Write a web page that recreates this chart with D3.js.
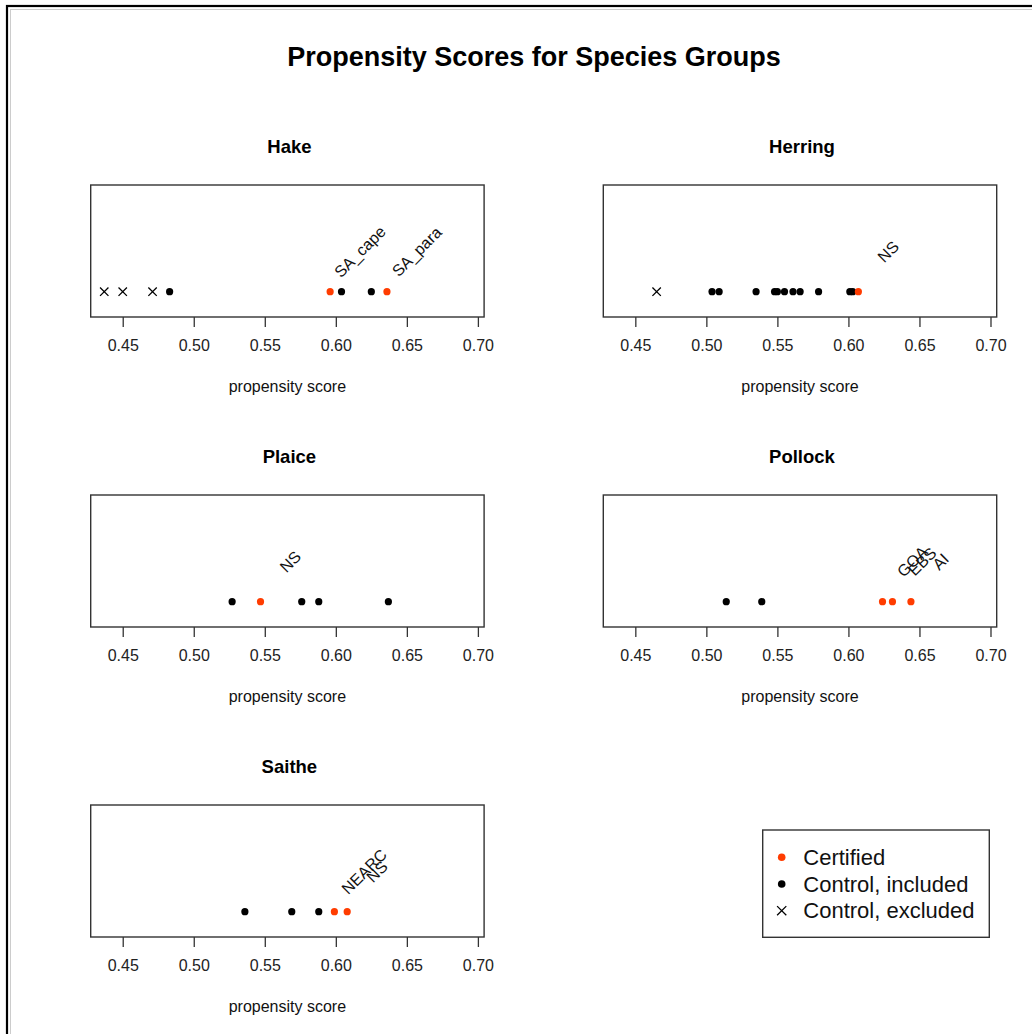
<!DOCTYPE html>
<html>
<head>
<meta charset="utf-8">
<script src="https://cdn.jsdelivr.net/npm/d3@7"></script>
<style>
  body { margin: 0; background: #fff; }
  svg { display: block; font-family: "Liberation Sans", Arial, Helvetica, sans-serif; }
</style>
</head>
<body>
<div id="chart"></div>
<script>
var svgWidth = 1032;
var svgHeight = 1034;

// data
var groups = ["Hake", "Herring", "Plaice", "Pollock", "Saithe"];

var hakeCertified = [0.596, 0.636];
var hakeLabels = ["SA_cape", "SA_para"];
var hakeIncluded = [0.483, 0.604, 0.625];
var hakeExcluded = [0.437, 0.450, 0.471];

var herringCertified = [0.607];
var herringLabels = ["NS"];
var herringIncluded = [0.504, 0.509, 0.535, 0.548, 0.550, 0.555, 0.561, 0.566, 0.579, 0.601, 0.603];
var herringExcluded = [0.465];

var plaiceCertified = [0.547];
var plaiceLabels = ["NS"];
var plaiceIncluded = [0.527, 0.576, 0.588, 0.637];
var plaiceExcluded = [];

var pollockCertified = [0.624, 0.631, 0.644];
var pollockLabels = ["GOA", "EBS", "AI"];
var pollockIncluded = [0.514, 0.539];
var pollockExcluded = [];

var saitheCertified = [0.599, 0.608];
var saitheLabels = ["NEARC", "NS"];
var saitheIncluded = [0.536, 0.569, 0.588];
var saitheExcluded = [];

var xTicks = [0.45, 0.50, 0.55, 0.60, 0.65, 0.70];
var legendLabels = ["Certified", "Control, included", "Control, excluded"];

var panels = [
  {name: groups[0], cert: hakeCertified, labels: hakeLabels, inc: hakeIncluded, exc: hakeExcluded},
  {name: groups[1], cert: herringCertified, labels: herringLabels, inc: herringIncluded, exc: herringExcluded},
  {name: groups[2], cert: plaiceCertified, labels: plaiceLabels, inc: plaiceIncluded, exc: plaiceExcluded},
  {name: groups[3], cert: pollockCertified, labels: pollockLabels, inc: pollockIncluded, exc: pollockExcluded},
  {name: groups[4], cert: saitheCertified, labels: saitheLabels, inc: saitheIncluded, exc: saitheExcluded}
];

var red = "#ff3c00";
var panelW = 393.4, panelH = 132;
var colX = [90.7, 603.3];
var rowY = [185, 495, 805];

var svg = d3.select("#chart")
  .append("svg")
  .attr("width", svgWidth)
  .attr("height", svgHeight);

// outer frame (only top and left edges are visible in the picture)
svg.append("rect")
  .attr("x", 7).attr("y", 6)
  .attr("width", svgWidth + 20).attr("height", svgHeight + 20)
  .attr("fill", "none").attr("stroke", "#000").attr("stroke-width", 2.2);
svg.append("rect")
  .attr("x", 10.5).attr("y", 9.5)
  .attr("width", svgWidth + 20).attr("height", svgHeight + 20)
  .attr("fill", "none").attr("stroke", "#ccc").attr("stroke-width", 1);

// main title
svg.append("text")
  .attr("x", 534).attr("y", 66)
  .attr("text-anchor", "middle")
  .style("font-size", "27px").style("font-weight", "bold")
  .text("Propensity Scores for Species Groups");

var xScale = d3.scaleLinear().domain([0.42746, 0.70437]).range([0, panelW]);
var yScale = d3.scaleLinear().domain([0, 1]).range([panelH, 0]);
var yPoint = 0.192;

panels.forEach(function(p, i) {
  var g = svg.append("g")
    .attr("transform", `translate(${colX[i % 2]}, ${rowY[Math.floor(i / 2)]})`);

  // panel title
  g.append("text")
    .attr("x", panelW / 2 + 2).attr("y", -32)
    .attr("text-anchor", "middle")
    .style("font-size", "18.5px").style("font-weight", "bold")
    .text(p.name);

  // x axis
  var axis = g.append("g")
    .attr("transform", `translate(0, ${panelH})`)
    .call(d3.axisBottom(xScale).tickValues(xTicks).tickFormat(d3.format(".2f")).tickSize(10).tickPadding(13));
  axis.select(".domain").remove();
  axis.selectAll("line").attr("stroke", "#333").attr("stroke-width", 1.3);
  axis.selectAll("text").style("font-size", "16px").attr("fill", "#222")
    .style("font-family", "'Liberation Sans', Arial, sans-serif");

  // axis title
  g.append("text")
    .attr("x", panelW / 2).attr("y", panelH + 75)
    .attr("text-anchor", "middle")
    .style("font-size", "16px").attr("fill", "#111")
    .text("propensity score");

  // box
  g.append("rect")
    .attr("x", 0).attr("y", 0)
    .attr("width", panelW).attr("height", panelH)
    .attr("fill", "none").attr("stroke", "#333").attr("stroke-width", 1.4);

  var py = yScale(yPoint);

  // excluded controls
  g.selectAll(".exc")
    .data(p.exc)
    .enter()
    .append("path")
    .attr("d", d => {
      var x = xScale(d), s = 4.2;
      return `M${x - s},${py - s}L${x + s},${py + s}M${x - s},${py + s}L${x + s},${py - s}`;
    })
    .attr("stroke", "#000").attr("stroke-width", 1.3);

  // included controls
  g.selectAll(".inc")
    .data(p.inc)
    .enter()
    .append("circle")
    .attr("cx", d => xScale(d))
    .attr("cy", py)
    .attr("r", 3.6)
    .attr("fill", "#000");

  // certified
  g.selectAll(".cert")
    .data(p.cert)
    .enter()
    .append("circle")
    .attr("cx", d => xScale(d))
    .attr("cy", py)
    .attr("r", 3.6)
    .attr("fill", red);

  // rotated labels for certified
  g.selectAll(".lab")
    .data(p.cert)
    .enter()
    .append("text")
    .attr("transform", d => `translate(${xScale(d + 0.021)}, ${py - 40}) rotate(-45)`)
    .attr("text-anchor", "middle")
    .attr("dominant-baseline", "central")
    .style("font-size", "16px").attr("fill", "#111")
    .text((d, j) => p.labels[j]);
});

// legend
var legend = svg.append("g").attr("transform", "translate(762.7, 830)");
legend.append("rect")
  .attr("width", 226.6).attr("height", 107.3)
  .attr("fill", "#fff").attr("stroke", "#333").attr("stroke-width", 1.4);

var legendY = [27.3, 54, 80.7];
legendLabels.forEach(function(lab, i) {
  var y = legendY[i];
  if (i < 2) {
    legend.append("circle")
      .attr("cx", 19).attr("cy", y).attr("r", 3.8)
      .attr("fill", i === 0 ? red : "#000");
  } else {
    var s = 4.6;
    legend.append("path")
      .attr("d", `M${19 - s},${y - s}L${19 + s},${y + s}M${19 - s},${y + s}L${19 + s},${y - s}`)
      .attr("stroke", "#000").attr("stroke-width", 1.3);
  }
  legend.append("text")
    .attr("x", 40.6).attr("y", y)
    .attr("dominant-baseline", "central")
    .style("font-size", "22px").attr("fill", "#111")
    .text(lab);
});
</script>
</body>
</html>
